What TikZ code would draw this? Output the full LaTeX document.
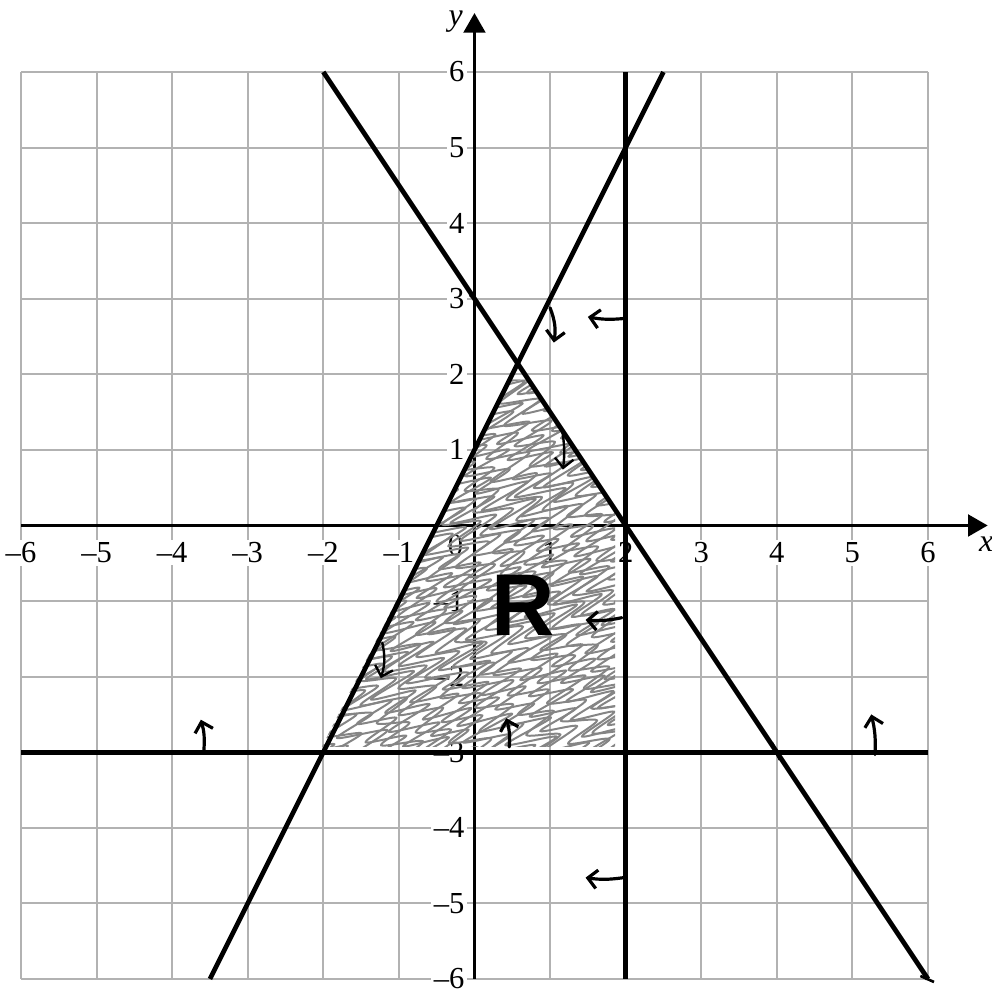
\documentclass[tikz,border=0pt]{standalone}
\usepackage{fontspec}
\setmainfont{Liberation Serif}
\newfontfamily\regionfont{Liberation Sans}
\usepackage{tikz}
\usetikzlibrary{arrows.meta}

\begin{document}
\begin{tikzpicture}[
  gridline/.style={gray!60, line width=0.75pt},
  axisline/.style={black, line width=0.9pt, -{Triangle[length=0.26cm, width=0.29cm]}},
  boundary/.style={black, line width=1.8pt},
  ticklabel/.style={fill=white, inner sep=1pt, font=\fontsize{11.5}{12}\selectfont},
  scribble/.style={black!48, line width=0.75pt, line join=round},
  hint/.style={black, line width=1.2pt, line cap=round, -{Straight Barb[length=3.5pt, width=7pt]}},
  cross/.style={black, line width=1pt}
]
\useasboundingbox (-6.278,-6.199) rectangle (6.847,6.953);
\pgfmathsetseed{42}

% Grid
\draw[gridline] (-6,-6) grid (6,6);

% Tick labels
\foreach \v/\t in {-6/\textendash6, -5/\textendash5, -4/\textendash4, -3/\textendash3, -2/\textendash2, -1/\textendash1, 1/1, 2/2, 3/3, 4/4, 5/5, 6/6} {
  \node[ticklabel] (xl\v) at (\v, -0.36) {\t};
  \node[ticklabel, anchor=east] (yl\v) at (-0.09, \v) {\t};
}
\node[ticklabel] (zero) at (-0.25, -0.27) {0};

% Axes
\draw[axisline] (-6,0) -- (6.79,0);
\draw[axisline] (0,-6) -- (0,6.78);
\node[font=\fontsize{12}{12}\selectfont\itshape] (xname) at (6.77,-0.25) {x};
\node[font=\fontsize{12}{12}\selectfont\itshape] (yname) at (-0.25,6.67) {y};

% Region R (scribbled shading)
\begin{scope}
  \clip (-2.02,-2.93) -- (0.46,1.93) -- (0.73,1.93) -- (1.86,0.24) -- (1.86,-2.93) -- cycle;
  \begin{scope}[rotate=22]
    \foreach \c in {-4,-3.55,...,3.6}
      \draw[scribble] plot[smooth, tension=0.45, domain=-34:34, samples=69]
        ({\c+0.3*cos(180*\x)*(0.7+0.6*rnd)}, {0.125*\x+0.03*rnd});
    \foreach \c in {-3.77,-3.32,...,3.6}
      \draw[scribble] plot[smooth, tension=0.45, domain=-28:28, samples=57]
        ({\c+0.27*cos(180*\x)*(0.7+0.6*rnd)}, {0.15*\x+0.03*rnd});
  \end{scope}
\end{scope}

% Boundary lines
\draw[boundary] (-3.5,-6) -- (2.5,6);
\draw[boundary] (-2,6) -- (6,-6);
\draw[boundary] (2,-6) -- (2,6);
\draw[boundary] (-6,-3) -- (6,-3);

% Small marks on the lines
\draw[cross] (1.92,0.1) -- (2.08,-0.1);
\draw[cross] (3.94,-2.88) -- (4.04,-3.1);
\draw[cross] (5.9,-5.96) -- (6.08,-6.04);
\draw[cross] (-0.06,3.05) -- (0.05,2.95);

% Side arrows
\draw[hint] (1.0,2.88) to[bend left=15] (1.05,2.42);
\draw[hint] (1.99,2.74) to[bend left=8] (1.5,2.76);
\draw[hint, line width=0.9pt] (1.16,1.26) to[bend left=8] (1.17,0.74);
\draw[hint] (1.95,-1.22) to[bend left=8] (1.47,-1.25);
\draw[hint, line width=0.9pt] (-1.22,-1.55) to[bend left=15] (-1.24,-2.02);
\draw[hint] (0.46,-2.93) to[bend right=10] (0.42,-2.55);
\draw[hint] (-3.58,-2.97) to[bend right=10] (-3.62,-2.57);
\draw[hint] (5.3,-3.03) to[bend right=8] (5.25,-2.5);
\draw[hint] (1.97,-4.66) to[bend left=8] (1.47,-4.66);

% Label
\node[font=\regionfont\bfseries\fontsize{33}{33}\selectfont] (rlabel) at (0.64,-1.05) {R};

\end{tikzpicture}
\end{document}
